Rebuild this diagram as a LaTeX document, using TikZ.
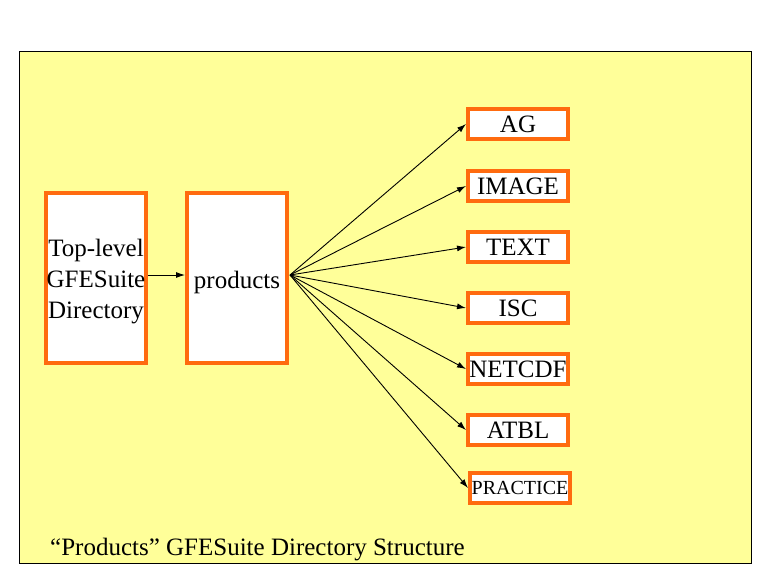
\documentclass[tikz,border=0pt]{standalone}
\usepackage{fontspec}
\setmainfont{Liberation Serif}
\usetikzlibrary{arrows.meta}
\definecolor{bgyellow}{HTML}{FFFF99}
\definecolor{boxorange}{HTML}{FF6B0F}
\begin{document}
\begin{tikzpicture}[x=1pt,y=-1pt,
  bigbox/.style={draw=boxorange,line width=4pt,fill=white,minimum width=100pt,minimum height=170pt,inner sep=0pt},
  bigtext/.style={inner sep=0pt,align=center,yshift=-4pt,font=\fontsize{25}{31}\selectfont},
  smallbox/.style={draw=boxorange,line width=4pt,fill=white,minimum width=100pt,minimum height=30pt,inner sep=0pt,font=\fontsize{25}{30}\selectfont},
  conn/.style={line width=0.9pt,-{Latex[length=9pt,width=6pt]}}]
\useasboundingbox (0,0) rectangle (768,576);
\draw[fill=bgyellow,line width=1pt] (19,51) rectangle (751,563);
\node[bigbox,label={[bigtext,name=tltext]center:Top-level\\GFESuite\\Directory}] (tl) at (96,278) {};
\node[bigbox,label={[bigtext,name=prodtext]center:products}] (prod) at (237,278) {};
\node[smallbox] (ag) at (518,124) {AG};
\node[smallbox] (img) at (518,186) {IMAGE};
\node[smallbox] (txt) at (518,247) {TEXT};
\node[smallbox] (isc) at (518,308) {ISC};
\node[smallbox] (net) at (518,369) {NETCDF};
\node[smallbox] (atbl) at (518,430) {ATBL};
\node[smallbox,font=\fontsize{20}{24}\selectfont] (prac) at (520,488) {PRACTICE};
\node[anchor=base west,inner sep=0pt,font=\fontsize{25}{30}\selectfont] (cap) at (50,555) {“Products” GFESuite Directory Structure};
\coordinate (src) at ([xshift=1pt,yshift=3pt]prod.east);
\draw[conn] ([yshift=3pt]tl.east) -- ([yshift=3pt]prod.west);
\foreach \n in {ag,img,txt,isc,net,atbl,prac}
  \draw[conn] (src) -- (\n.west);
\end{tikzpicture}
\end{document}
